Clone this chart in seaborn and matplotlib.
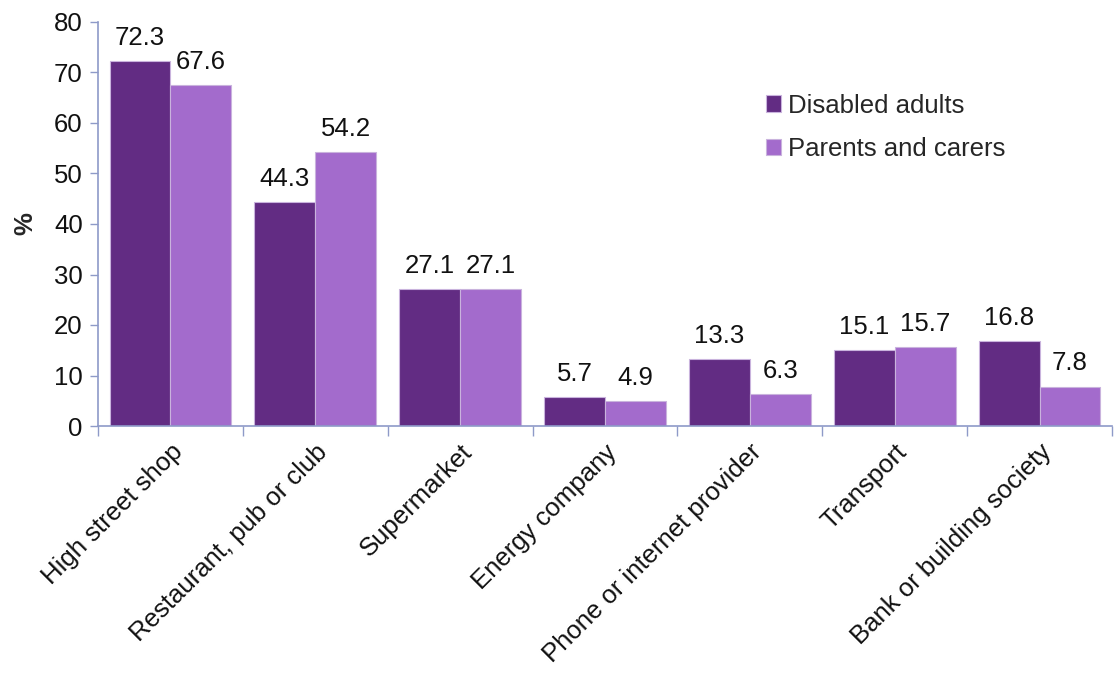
import matplotlib
matplotlib.use("Agg")
import matplotlib.pyplot as plt
import seaborn as sns
import pandas as pd
import numpy as np
from matplotlib.ticker import FixedLocator

categories = ["High street shop", "Restaurant, pub or club", "Supermarket",
              "Energy company", "Phone or internet provider", "Transport",
              "Bank or building society"]
disabled_adults = [72.3, 44.3, 27.1, 5.7, 13.3, 15.1, 16.8]
parents_carers = [67.6, 54.2, 27.1, 4.9, 6.3, 15.7, 7.8]
series_names = ["Disabled adults", "Parents and carers"]
y_ticks = [0, 10, 20, 30, 40, 50, 60, 70, 80]

df = pd.DataFrame({
    "category": categories * 2,
    "group": [series_names[0]] * len(categories) + [series_names[1]] * len(categories),
    "value": disabled_adults + parents_carers,
})

sns.set_theme(style="white")
plt.rcParams["font.family"] = ["Liberation Sans", "DejaVu Sans"]

axis_col = "#8E9AC8"
palette = {series_names[0]: "#622C83", series_names[1]: "#A36BCC"}
fs = 18.5

fig = plt.figure(figsize=(11.19, 6.73), dpi=100)
ax = fig.add_axes([98 / 1119, 1 - 426 / 673, (1112 - 98) / 1119, (426 - 22) / 673])

sns.barplot(data=df, x="category", y="value", hue="group", order=categories,
            hue_order=series_names, palette=palette, width=0.84, saturation=1,
            ax=ax, linewidth=0.8, edgecolor="#C9B3DD")

for cont in ax.containers:
    ax.bar_label(cont, fmt="%.1f", padding=8, fontsize=fs, color="#111111")

ax.set_ylim(0, 80)
ax.set_xlim(-0.5, len(categories) - 0.5)
ax.set_yticks(y_ticks)
ax.tick_params(axis="y", labelsize=fs, length=6, width=1, color=axis_col,
               direction="out", left=True, pad=5, labelcolor="#111111")
ax.tick_params(axis="x", which="major", length=0, labelsize=fs, pad=10,
               labelcolor="#111111")
ax.xaxis.set_minor_locator(FixedLocator(np.arange(-0.5, len(categories), 1.0)))
ax.tick_params(axis="x", which="minor", length=7, width=1, color=axis_col,
               direction="out", bottom=True)
plt.setp(ax.get_xticklabels(), rotation=45, ha="right", rotation_mode="anchor")

for side in ["top", "right"]:
    ax.spines[side].set_visible(False)
for side in ["left", "bottom"]:
    ax.spines[side].set_color(axis_col)
    ax.spines[side].set_linewidth(1.2)

ax.set_xlabel("")
ax.set_ylabel("%", fontsize=fs, fontweight="bold", labelpad=12)

leg = ax.legend(loc="upper left", bbox_to_anchor=(0.636, 0.88), frameon=False,
                fontsize=fs, handlelength=0.6, handleheight=0.6,
                handletextpad=0.25, labelspacing=0.75)

fig.savefig("out.png", dpi=100)
